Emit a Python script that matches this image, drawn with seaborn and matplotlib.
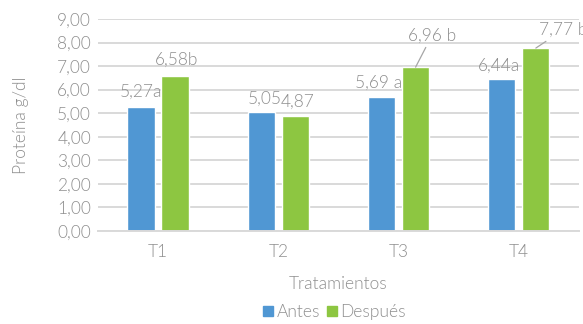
import matplotlib
matplotlib.use("Agg")
import matplotlib.pyplot as plt
import seaborn as sns
import pandas as pd
from matplotlib.lines import Line2D

categories = ["T1", "T2", "T3", "T4"]
antes = [5.27, 5.05, 5.69, 6.44]
despues = [6.58, 4.87, 6.96, 7.77]
antes_labels = ["5,27a", "5,05", "5,69 a", "6,44a"]
despues_labels = ["6,58b", "4,87", "6,96 b", "7,77 b"]
series_names = ["Antes", "Después"]
yticks = [0, 1, 2, 3, 4, 5, 6, 7, 8, 9]
ytick_labels = ["0,00", "1,00", "2,00", "3,00", "4,00", "5,00", "6,00", "7,00", "8,00", "9,00"]
colors = ["#5097D3", "#8DC641"]

df = pd.DataFrame({
    "Tratamiento": categories * 2,
    "Serie": [series_names[0]] * 4 + [series_names[1]] * 4,
    "Valor": antes + despues,
})

sns.set_theme(style="white")
plt.rcParams["font.family"] = ["Lato", "DejaVu Sans"]
plt.rcParams["font.weight"] = 300
plt.rcParams["axes.labelweight"] = 300
txt = "#8f8f8f"
fs = 12.5

fig = plt.figure(figsize=(5.83, 3.24), dpi=100)
ax = fig.add_axes([0.168, 0.287, 0.825, 0.654])
sns.barplot(data=df, x="Tratamiento", y="Valor", hue="Serie", palette=colors,
            width=0.567, gap=0.2, ax=ax, legend=False, saturation=1)

ax.set_ylim(0, 9)
ax.set_xlim(-0.5, 3.5)
ax.set_yticks(yticks)
ax.set_yticklabels(ytick_labels)
ax.yaxis.grid(True, color="#d9d9d9", linewidth=1.4)
ax.set_axisbelow(True)
for s in ["top", "right", "left"]:
    ax.spines[s].set_visible(False)
ax.spines["bottom"].set_color("#d9d9d9")
ax.spines["bottom"].set_linewidth(1.4)
ax.tick_params(axis="both", length=0, colors=txt, labelsize=fs, pad=5)
ax.tick_params(axis="x", pad=9)
ax.set_xlabel("Tratamientos", color=txt, fontsize=fs, labelpad=12, fontweight=300)
ax.set_ylabel("Proteína g/dl", color=txt, fontsize=fs, labelpad=20, fontweight=300)

# data labels
offs_a = [(0, 15), (3, 13), (-3, 14), (-3, 14)]
offs_d = [(1, 16), (2, 15), (16, 31), (27, 18)]
lead_d = [False, False, True, True]
for i, bar in enumerate(ax.containers[0]):
    x = bar.get_x() + bar.get_width() / 2
    ax.annotate(antes_labels[i], (x, bar.get_height()), xytext=offs_a[i],
                textcoords="offset pixels", ha="center", va="center",
                color=txt, fontsize=fs)
for i, bar in enumerate(ax.containers[1]):
    x = bar.get_x() + bar.get_width() / 2
    ap = dict(arrowstyle="-", color="#a6a6a6", lw=0.9, shrinkA=0, shrinkB=0) if lead_d[i] else None
    ax.annotate(despues_labels[i], (x, bar.get_height()), xytext=offs_d[i],
                textcoords="offset pixels", ha="center", va="center",
                color=txt, fontsize=fs, arrowprops=ap)

handles = [Line2D([], [], marker="s", linestyle="none", markersize=7,
                  markerfacecolor=c, markeredgecolor=c) for c in colors]
fig.legend(handles, series_names, loc="lower center", bbox_to_anchor=(0.572, -0.035),
           ncol=2, frameon=False, fontsize=fs, labelcolor=txt,
           handletextpad=0.05, columnspacing=0.3, handlelength=0.8)

fig.savefig("out.png", dpi=100)
